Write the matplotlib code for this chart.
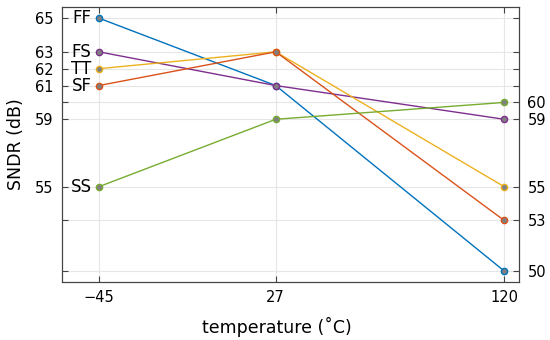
import matplotlib.pyplot as plt
import numpy as np

# temperatures
temps = np.array([-45, 27, 120])

corners = ["FF", "FS", "TT", "SF", "SS"]
ff = np.array([65, 61, 50])
fs = np.array([63, 61, 59])
tt = np.array([62, 63, 55])
sf = np.array([61, 63, 53])
ss = np.array([55, 59, 60])

colors = ["#0072BD", "#7E2F8E", "#EDB120", "#D95319", "#77AC30"]
series = [ff, fs, tt, sf, ss]

left_ticks = [55, 59, 61, 62, 63, 65]
right_ticks = [50, 53, 55, 59, 60]
all_ticks = sorted(set(left_ticks) | set(right_ticks) | set(ff) | set(fs) | set(tt) | set(sf) | set(ss))

fig = plt.figure(figsize=(5.5, 3.4), dpi=100)
ax = fig.add_axes([0.1127, 0.1706, 0.8309, 0.8084])

for name, vals, c in zip(corners, series, colors):
    ax.plot(temps, vals, color=c, linewidth=1.0, marker='o', markersize=4.5,
            markerfacecolor="#808080", markeredgecolor=c, markeredgewidth=1.0, zorder=3)
    ax.text(temps[0] - 3, vals[0], name, ha='right', va='center', fontsize=12)

ax.set_xlim(-60, 126)
ax.set_ylim(49.35, 65.65)
ax.set_xticks(temps)
ax.set_xticklabels([f"{t}".replace("-", "\u2212") for t in temps])

ax.set_yticks(all_ticks)
ax.set_yticklabels([str(t) if t in left_ticks else "" for t in all_ticks])
ax.tick_params(direction='in', length=4, width=0.8, labelsize=10.5, pad=6,
               top=True, right=True, color="#444444")

ax2 = ax.twinx()
ax2.set_ylim(ax.get_ylim())
ax2.set_yticks(all_ticks)
ax2.set_yticklabels([str(t) if t in right_ticks else "" for t in all_ticks])
ax2.tick_params(direction='in', length=4, width=0.8, labelsize=10.5, pad=6, color="#444444")

ax.grid(True, color="#e6e6e6", linewidth=0.8)
ax.set_axisbelow(True)
for a in (ax, ax2):
    for s in a.spines.values():
        s.set_color("#444444")
        s.set_linewidth(0.8)

ax.set_xlabel("temperature (\u02daC)", fontsize=12.5, labelpad=8)
ax.xaxis.label.set_x(0.47)
ax.set_ylabel("SNDR (dB)", fontsize=12.5, labelpad=7)

plt.savefig("out.png", dpi=100)
